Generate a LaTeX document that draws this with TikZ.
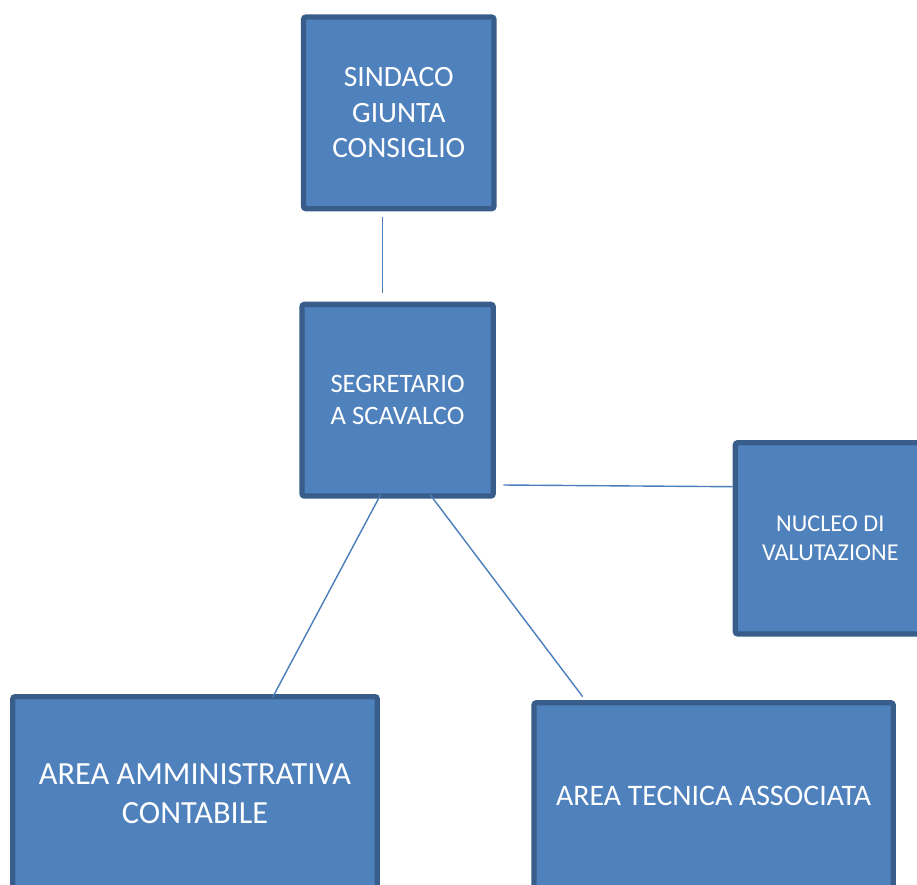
\documentclass[tikz,border=0pt]{standalone}
\usepackage{fontspec}
\setmainfont{Carlito}
\definecolor{boxfill}{HTML}{4F81BD}
\definecolor{boxline}{HTML}{385D8A}
\definecolor{conn}{HTML}{4A7EBB}
\tikzset{
  orgbox/.style={draw=boxline, fill=boxfill, line width=5.3pt, rounded corners=2.5pt,
    text=white, align=center, inner sep=0pt, rectangle},
  link/.style={draw=conn, line width=1.4pt}
}
\begin{document}
\begin{tikzpicture}[x=1pt,y=-1pt]
\useasboundingbox (0,0) rectangle (917,884);
\node[orgbox, minimum width=190.5pt, minimum height=191.7pt,
  font=\fontsize{29.5}{35.5}\selectfont] (sind) at (398.75,112.85) {SINDACO\\GIUNTA\\CONSIGLIO};
\node[orgbox, minimum width=191.3pt, minimum height=191.7pt,
  font=\fontsize{26.6}{31.7}\selectfont] (seg) at (397.6,400.2) {SEGRETARIO\\A SCAVALCO};
\node[orgbox, minimum width=190pt, minimum height=191.3pt,
  font=\fontsize{24.2}{28.3}\selectfont] (nuc) at (830.3,538.3) {NUCLEO DI\\VALUTAZIONE};
\node[orgbox, minimum width=364.6pt, minimum height=194.3pt,
  font=\fontsize{32.3}{38.7}\selectfont] (amm) at (195,793.8) {AREA AMMINISTRATIVA\\CONTABILE};
\node[orgbox, minimum width=359.3pt, minimum height=186.6pt,
  font=\fontsize{29.8}{36}\selectfont] (tec) at (713.65,796) {AREA TECNICA ASSOCIATA};
% connector ends
\coordinate (s1) at (382.7,216.7);
\coordinate (s2) at (382.7,292.7);
\coordinate (n1) at (503.3,485);
\coordinate (n2) at (732.7,486.7);
\coordinate (a1) at (380.7,494.5);
\coordinate (a2) at (272.5,697.5);
\coordinate (t1) at (430,494.5);
\coordinate (t2) at (582.7,696.7);
\draw[link] (s1) -- (s2);
\draw[link] (n1) -- (n2);
\draw[link] (a1) -- (a2);
\draw[link] (t1) -- (t2);
\end{tikzpicture}
\end{document}
